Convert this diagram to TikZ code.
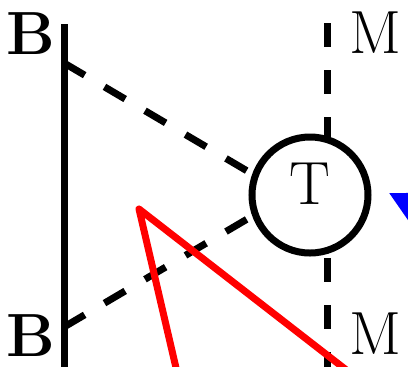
\documentclass[tikz,border=0pt]{standalone}
\usepackage{fontspec}
\usetikzlibrary{arrows.meta}
\begin{document}
\begin{tikzpicture}[x=0.5pt,y=-0.5pt,
  lbl/.style={font=\fontsize{30.5}{36}\selectfont, inner sep=0pt},
  lblbold/.style={font=\fontsize{30.5}{36}\selectfont\bfseries, inner sep=0pt},
  blk/.style={line width=3.5pt, black},
  dsh/.style={line width=3.5pt, black, dash pattern=on 12pt off 11.5pt},
  redline/.style={line width=3.5pt, red, line join=round},
  ring/.style={circle, draw, fill=white, line width=3.5pt, minimum size=58pt,
    inner sep=0pt, text depth=11pt, font=\fontsize{30.5}{36}\selectfont},
]
\useasboundingbox (0,0) rectangle (408,366);
\clip (0,0) rectangle (408,366);
% solid vertical line
\coordinate (Ltop) at (64,24);
\coordinate (Lbot) at (64,390);
\draw[blk] (Ltop) -- (Lbot);
% labels
\node[lblbold] (B1) at (31,34) {B};
\node[lblbold] (B2) at (31,336) {B};
\node[lbl] (M1) at (375,32.5) {M};
\node[lbl] (M2) at (375,334) {M};
% dashed lines
\coordinate (Da) at (64,63);
\coordinate (Db) at (64,327);
\coordinate (Dm) at (288,195);
\draw[dsh] (Da) -- (Dm);
\draw[dsh] (Db) -- (Dm);
\coordinate (Mt) at (327,23);
\coordinate (Mb) at (327,400);
\draw[dsh] (Mt) -- (Mb);
% circle
\node[ring] (T) at (310,195) {T};
% red lines
\coordinate (Ra) at (139,209);
\coordinate (Rl) at (183.5,400);
\coordinate (Rr) at (385,400);
\draw[redline] (Rl) -- (Ra) -- (Rr);
% blue arrow
\coordinate (Bt) at (389,193);
\coordinate (Bs) at (478,239);
\draw[blue, line width=3.5pt, -{Triangle[length=20pt, width=20pt]}] (Bs) -- (Bt);
\end{tikzpicture}
\end{document}
